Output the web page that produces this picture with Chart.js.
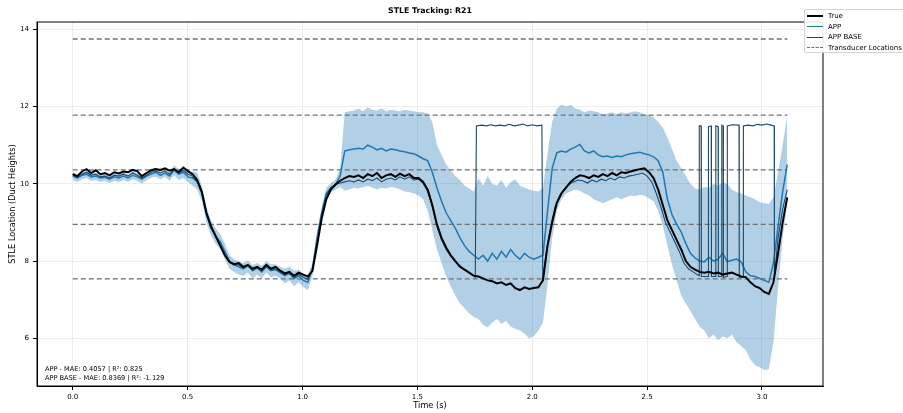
<!DOCTYPE html>
<html>
<head>
<meta charset="utf-8">
<title>STLE Tracking: R21</title>
<script src="https://cdn.jsdelivr.net/npm/chart.js@4.4.1/dist/chart.umd.min.js"></script>
<style>
  html, body { margin: 0; padding: 0; background: #fff; }
  #wrap { position: relative; width: 903px; height: 413px; font-family: "DejaVu Sans", sans-serif; color: #000; }
  #chart { position: absolute; left: 0; top: 0; }
  #title {
    position: absolute; left: 230px; width: 400px; top: 6px; text-align: center;
    font-size: 7.8px; font-weight: bold; line-height: 10px;
  }
  #legend {
    position: absolute; left: 804px; top: 9px; width: 110px; height: 44px;
    box-sizing: border-box; border: 1px solid #d3d3d3; border-radius: 2px;
    background: rgba(255, 255, 255, 0.9); font-size: 7px;
  }
  #legend .item { position: absolute; left: 2px; height: 10px; line-height: 10px; white-space: nowrap; }
  #legend .sw { display: inline-block; width: 16px; height: 0; vertical-align: middle; margin-right: 5px; }
  #stats { position: absolute; left: 45px; top: 365px; font-size: 6.6px; line-height: 8.5px; white-space: nowrap; }
</style>
</head>
<body>
<div id="wrap">
  <canvas id="chart" width="903" height="413"></canvas>
  <div id="title">STLE Tracking: R21</div>
  <div id="legend">
    <div class="item" style="top:1px"><span class="sw" style="border-top:2px solid #000"></span>True</div>
    <div class="item" style="top:11.5px"><span class="sw" style="border-top:1.5px solid #1f77b4"></span>APP</div>
    <div class="item" style="top:22px"><span class="sw" style="border-top:1.5px solid #1a4a6e"></span>APP BASE</div>
    <div class="item" style="top:32.5px"><span class="sw" style="border-top:1.5px dashed #707070"></span>Transducer Locations</div>
  </div>
  <div id="stats">APP - MAE: 0.4057 | R²: 0.825<br>APP BASE - MAE: 0.8369 | R²: -1.129</div>
</div>
<script>
// sampled on an even grid from 0 to T_END seconds
const T_END = 3.11;

const trueV = [
  10.25, 10.2, 10.32, 10.38, 10.28, 10.35, 10.25, 10.28, 10.22, 10.3,
  10.27, 10.32, 10.3, 10.36, 10.33, 10.2, 10.28, 10.35, 10.38, 10.36,
  10.4, 10.34, 10.38, 10.3, 10.42, 10.33, 10.25, 10.1, 9.8, 9.25,
  8.9, 8.65, 8.4, 8.15, 7.98, 7.92, 7.95, 7.85, 7.9, 7.8,
  7.85, 7.78, 7.9, 7.8, 7.85, 7.75, 7.68, 7.72, 7.62, 7.7,
  7.65, 7.6, 7.75, 8.4, 9.1, 9.6, 9.85, 9.98, 10.08, 10.15,
  10.2, 10.18, 10.22, 10.15, 10.25, 10.2, 10.28, 10.15, 10.22, 10.25,
  10.18, 10.26, 10.2, 10.25, 10.15, 10.15, 10.05, 9.85, 9.45, 8.95,
  8.6, 8.35, 8.15, 8.0, 7.85, 7.78, 7.7, 7.62, 7.6, 7.55,
  7.5, 7.48, 7.42, 7.45, 7.38, 7.42, 7.3, 7.25, 7.32, 7.28,
  7.3, 7.32, 7.5, 8.4, 9.0, 9.5, 9.75, 9.9, 10.05, 10.15,
  10.22, 10.2, 10.15, 10.22, 10.18, 10.25, 10.2, 10.28, 10.22, 10.3,
  10.28, 10.32, 10.35, 10.38, 10.4, 10.3, 10.15, 9.85, 9.45, 9.05,
  8.8, 8.55, 8.3, 8.0, 7.85, 7.78, 7.72, 7.7, 7.72, 7.68,
  7.7, 7.65, 7.68, 7.7, 7.65, 7.6, 7.58, 7.45, 7.35, 7.3,
  7.2, 7.15, 7.45, 8.2, 9.0, 9.65
];

const appV = [
  10.2, 10.15, 10.22, 10.25, 10.18, 10.2, 10.15, 10.17, 10.12, 10.18,
  10.15, 10.2, 10.15, 10.22, 10.18, 10.12, 10.2, 10.25, 10.3, 10.22,
  10.28, 10.2, 10.35, 10.25, 10.3, 10.18, 10.15, 10.05, 9.75, 9.2,
  8.85, 8.65, 8.5, 8.25, 8.0, 7.9, 7.85, 7.8, 7.88, 7.75,
  7.82, 7.72, 7.85, 7.75, 7.78, 7.7, 7.62, 7.68, 7.55, 7.62,
  7.5, 7.45, 7.8, 8.6, 9.25, 9.75, 9.9, 9.98, 10.2, 10.85,
  10.88, 10.9, 10.92, 10.9, 11.0, 10.95, 10.88, 10.92, 10.85, 10.9,
  10.88, 10.85, 10.83, 10.8, 10.78, 10.72, 10.65, 10.6, 10.3, 9.9,
  9.55, 9.25, 9.05, 8.85, 8.6, 8.4, 8.25, 8.15, 8.05, 8.15,
  8.0, 8.2, 8.05, 8.25, 8.1, 8.3, 8.15, 8.05, 8.2, 8.1,
  8.05, 8.1, 8.15, 9.3, 10.4, 10.8, 10.85, 10.82, 10.9, 10.95,
  11.02, 10.85, 10.8, 10.85, 10.75, 10.7, 10.72, 10.68, 10.72, 10.7,
  10.75, 10.78, 10.8, 10.82, 10.78, 10.75, 10.7, 10.6, 10.3, 9.6,
  9.2, 8.95, 8.75, 8.45, 8.2, 8.08, 8.0, 7.98, 8.1, 8.0,
  8.05, 8.2, 7.98, 8.02, 8.05, 7.98, 7.72, 7.62, 7.6, 7.55,
  7.5, 7.45, 7.95, 8.9, 9.8, 10.5
];

// spread band around APP
const bandHigh = [
  10.3, 10.25, 10.3, 10.32, 10.27, 10.28, 10.25, 10.26, 10.22, 10.27,
  10.24, 10.3, 10.25, 10.32, 10.28, 10.22, 10.3, 10.35, 10.42, 10.32,
  10.38, 10.3, 10.48, 10.38, 10.42, 10.3, 10.32, 10.3, 9.95, 9.4,
  9.05, 8.85, 8.7, 8.45, 8.15, 8.05, 8.0, 7.95, 8.02, 7.9,
  7.95, 7.88, 8.0, 7.92, 7.92, 7.85, 7.8, 7.85, 7.75, 7.78,
  7.68, 7.62, 7.95, 8.75, 9.4, 9.9, 10.02, 10.1, 10.4, 11.85,
  11.88, 11.9, 11.95, 11.88, 11.98, 11.92, 11.9, 11.95, 11.88, 11.92,
  11.9, 11.88, 11.92, 11.9, 11.88, 11.85, 11.85, 11.82, 11.6, 11.0,
  10.75, 10.5, 10.35, 10.2, 10.1, 9.95, 9.88, 9.8, 10.15, 9.95,
  10.2, 10.0, 9.95, 10.1, 9.9, 10.05, 10.12, 9.95, 9.9, 9.85,
  9.82, 9.8, 9.9, 10.8, 11.6, 11.95, 12.05, 12.0, 12.05, 11.95,
  11.92, 11.85, 11.9, 11.88, 11.85, 11.8, 11.82, 11.85, 11.8, 11.85,
  11.82, 11.85, 11.88, 11.85, 11.8, 11.78, 11.72, 11.6, 11.45, 11.2,
  10.9, 10.6, 10.4, 10.2, 10.0, 9.88, 9.85, 9.92, 9.9, 10.0,
  9.95, 10.05, 9.98, 9.85, 9.78, 9.75, 9.7, 9.65, 9.6, 9.52,
  9.5, 9.48, 9.65, 10.3, 11.0, 11.78
];

const bandLow = [
  10.1, 10.05, 10.12, 10.15, 10.08, 10.1, 10.05, 10.08, 10.02, 10.08,
  10.05, 10.1, 10.05, 10.12, 10.08, 10.0, 10.1, 10.15, 10.18, 10.12,
  10.18, 10.08, 10.22, 10.1, 10.15, 10.05, 9.95, 9.85, 9.55, 9.0,
  8.65, 8.45, 8.3, 8.05, 7.8, 7.72, 7.65, 7.62, 7.7, 7.55,
  7.65, 7.55, 7.7, 7.58, 7.62, 7.55, 7.42, 7.5, 7.35, 7.45,
  7.32, 7.25, 7.6, 8.4, 9.1, 9.6, 9.78, 9.85, 9.92, 9.82,
  9.85, 9.9, 9.88, 9.92, 9.95, 9.9, 9.85, 9.9, 9.88, 9.92,
  9.9, 9.85, 9.8, 9.78, 9.75, 9.7, 9.6, 9.3, 8.8, 8.3,
  7.95, 7.6, 7.35, 7.1, 6.9, 6.78, 6.65, 6.55, 6.5, 6.35,
  6.28, 6.4, 6.5, 6.38, 6.45, 6.3, 6.25, 6.2, 6.12, 6.0,
  6.05, 6.2, 6.4, 7.4, 8.6, 9.3, 9.6, 9.75, 9.8, 9.85,
  9.82, 9.75, 9.7, 9.6, 9.55, 9.5, 9.55, 9.6, 9.65, 9.6,
  9.65, 9.7, 9.68, 9.72, 9.7, 9.62, 9.55, 9.3, 8.9, 8.4,
  7.9, 7.5, 7.1, 6.9, 6.7, 6.5, 6.3, 6.2, 6.0, 6.1,
  5.95, 6.05, 6.0, 6.1, 5.9, 5.8, 5.7, 5.45, 5.3, 5.25,
  5.18, 5.2, 5.9, 7.3, 8.6, 9.5
];

// APP BASE: first part on the common grid, then free [t, value] pairs for the jumps
const appBaseHead = [
  10.22, 10.17, 10.25, 10.3, 10.22, 10.25, 10.18, 10.2, 10.15, 10.22,
  10.2, 10.25, 10.2, 10.28, 10.22, 10.15, 10.22, 10.3, 10.33, 10.28,
  10.33, 10.25, 10.38, 10.28, 10.35, 10.25, 10.2, 10.05, 9.78, 9.25,
  8.9, 8.62, 8.4, 8.15, 7.96, 7.9, 7.9, 7.82, 7.88, 7.78,
  7.83, 7.75, 7.88, 7.78, 7.8, 7.72, 7.65, 7.7, 7.58, 7.66,
  7.58, 7.52, 7.78, 8.5, 9.2, 9.7, 9.9, 9.98, 10.02, 10.05,
  10.08, 10.05, 10.1, 10.05, 10.12, 10.08, 10.15, 10.05, 10.12, 10.15,
  10.1, 10.18, 10.12, 10.18, 10.1, 10.12, 10.02, 9.8, 9.4, 8.9,
  8.55, 8.3, 8.12, 7.98, 7.88, 7.78, 7.7, 7.62
];

const appBaseTail = [
  [1.752, 7.58], [1.757, 11.5], [1.78, 11.52], [1.80, 11.5], [1.82, 11.53], [1.84, 11.5],
  [1.86, 11.52], [1.88, 11.5], [1.90, 11.54], [1.92, 11.5], [1.94, 11.52], [1.96, 11.55],
  [1.98, 11.5], [2.00, 11.53], [2.02, 11.5], [2.042, 11.52], [2.046, 7.5],
  [2.06, 8.2], [2.08, 8.9], [2.10, 9.42], [2.12, 9.7], [2.14, 9.85], [2.16, 9.98],
  [2.18, 10.05], [2.20, 10.1], [2.22, 10.08], [2.24, 10.02], [2.26, 10.1], [2.28, 10.05],
  [2.30, 10.12], [2.32, 10.08], [2.34, 10.15], [2.36, 10.1], [2.38, 10.18], [2.40, 10.15],
  [2.42, 10.2], [2.44, 10.22], [2.46, 10.25], [2.48, 10.28], [2.50, 10.2], [2.52, 10.05],
  [2.54, 9.75], [2.56, 9.4], [2.58, 9.0], [2.60, 8.75], [2.62, 8.5], [2.64, 8.25],
  [2.66, 7.95], [2.68, 7.8], [2.70, 7.72],
  [2.726, 7.62], [2.727, 11.5], [2.735, 11.5], [2.736, 7.6],
  [2.766, 7.6], [2.767, 11.48], [2.779, 11.5], [2.78, 7.6],
  [2.798, 7.6], [2.799, 11.5], [2.809, 11.48], [2.81, 7.6],
  [2.824, 7.6], [2.825, 11.52], [2.831, 11.5], [2.832, 7.58],
  [2.848, 7.6], [2.849, 11.5], [2.87, 11.53], [2.90, 11.52], [2.901, 7.58],
  [2.918, 7.58], [2.919, 11.5], [2.94, 11.52], [2.96, 11.5], [2.98, 11.54],
  [3.00, 11.52], [3.02, 11.55], [3.04, 11.52], [3.053, 11.5], [3.054, 7.6],
  [3.07, 8.6], [3.09, 9.35], [3.11, 9.85]
];

const transducers = [13.75, 11.78, 10.36, 8.95, 7.54];

const FONT = 'DejaVu Sans';
const n = trueV.length;
const times = trueV.map((_, i) => i * T_END / (n - 1));
const pts = vals => vals.map((v, i) => ({ x: times[i], y: v }));

const appBasePts = pts(appBaseHead).concat(appBaseTail.map(([t, v]) => ({ x: t, y: v })));

const datasets = [
  { label: 'band low', data: pts(bandLow), borderWidth: 0, fill: false, order: 10 },
  { label: 'band high', data: pts(bandHigh), borderWidth: 0, fill: '-1',
    backgroundColor: 'rgba(31,119,180,0.35)', order: 9 },
  { label: 'True', data: pts(trueV), borderColor: '#000', borderWidth: 2, order: 1 },
  { label: 'APP', data: pts(appV), borderColor: '#1f77b4', borderWidth: 1.5, order: 3 },
  { label: 'APP BASE', data: appBasePts, borderColor: '#1a4a6e', borderWidth: 1.1, order: 2 }
];
transducers.forEach(v => {
  datasets.push({
    label: 'Transducer Locations',
    data: [{ x: 0, y: v }, { x: T_END, y: v }],
    borderColor: '#707070', borderWidth: 1.3, borderDash: [5, 3], order: 5
  });
});

// top and right edges of the axes box
const frame = {
  id: 'frame',
  afterDatasetsDraw(chart) {
    const { ctx, chartArea: a } = chart;
    ctx.save();
    ctx.strokeStyle = '#000';
    ctx.lineWidth = 1;
    ctx.strokeRect(a.left, a.top, a.right - a.left, a.bottom - a.top);
    ctx.restore();
  }
};

const ctx = document.getElementById('chart').getContext('2d');
new Chart(ctx, {
  type: 'line',
  data: { datasets },
  options: {
    responsive: false,
    animation: false,
    layout: { padding: { left: 0, right: 80, top: 22, bottom: 0 } },
    elements: { point: { radius: 0 }, line: { tension: 0 } },
    plugins: {
      legend: { display: false },
      tooltip: { enabled: false },
      title: { display: false }
    },
    scales: {
      x: {
        type: 'linear', min: -0.1555, max: 3.2655,
        ticks: {
          stepSize: 0.5, includeBounds: false, maxRotation: 0, padding: 3, color: '#000',
          font: { family: FONT, size: 7 }, callback: v => v.toFixed(1)
        },
        grid: { color: '#ececec', tickColor: '#000', tickLength: 4 },
        border: { color: '#000' },
        title: { display: true, text: 'Time (s)', color: '#000',
          font: { family: FONT, size: 8.2 }, padding: { top: 0, bottom: 2 } },
        afterFit: s => { s.height = 27; }
      },
      y: {
        min: 4.765, max: 14.19,
        ticks: {
          stepSize: 2, includeBounds: false, padding: 4, color: '#000',
          font: { family: FONT, size: 7 }
        },
        grid: { color: '#ececec', tickColor: '#000', tickLength: 4 },
        border: { color: '#000' },
        title: { display: true, text: 'STLE Location (Duct Heights)', color: '#000',
          font: { family: FONT, size: 8.2 }, padding: { top: 8, bottom: 0 } },
        afterFit: s => { s.width = 37; }
      }
    }
  },
  plugins: [frame]
});
</script>
</body>
</html>
